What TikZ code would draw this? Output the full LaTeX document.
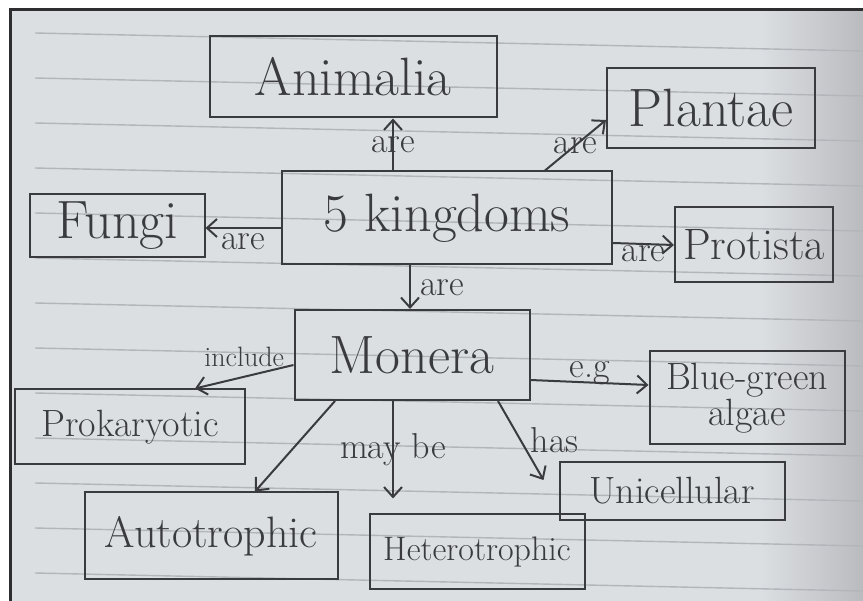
\documentclass[tikz,border=0pt]{standalone}
\usepackage{fontspec}
\usetikzlibrary{positioning,arrows.meta}

\definecolor{pencil}{HTML}{3A3B3F}
\definecolor{paper}{HTML}{DCDFE2}
\definecolor{paperdark}{HTML}{BABBBF}
\definecolor{ruling}{HTML}{B2B6BA}
\definecolor{rim}{HTML}{2E2E30}

\tikzset{
  kbox/.style={draw=pencil,line width=2pt,text=pencil,inner sep=0pt,
    font=\fontsize{44}{48}\selectfont},
  bigtext/.style={font=\fontsize{54}{58}\selectfont},
  smalltext/.style={font=\fontsize{38}{36}\selectfont},
  lab/.style={text=pencil,inner sep=1pt,font=\fontsize{36}{38}\selectfont},
}

\begin{document}
\begin{tikzpicture}[x=1pt,y=-1pt,on grid,
    >={Straight Barb[length=10pt,width=18pt]}]
  \useasboundingbox (0,0) rectangle (863,601);
  % the notebook page
  \fill[white] (0,0) rectangle (863,601);
  \fill[paper] (10,10) rectangle (760,601);
  \shade[left color=paper,right color=paperdark] (760,10) rectangle (863,601);
  \foreach \k in {0,...,12}
    \draw[ruling,line width=1.4pt] (35,{33+45*\k}) -- (863,{51+45*\k});
  \draw[rim,line width=3pt] (10,601) -- (10,10) -- (863,10);

  \node[kbox,bigtext,minimum width=330pt,minimum height=93pt] (king) at (447,218) {5 kingdoms};
  \node[kbox,bigtext,minimum width=287pt,minimum height=81pt,above left=141pt and 94pt of king] (anim) {Animalia};
  \node[kbox,bigtext,minimum width=208pt,minimum height=80pt,above right=110pt and 264pt of king] (plant) {Plantae};
  \node[kbox,bigtext,minimum width=175pt,minimum height=63pt,above left=-8pt and 330pt of king] (fungi) {Fungi};
  \node[kbox,minimum width=158pt,minimum height=75pt,below right=27pt and 307pt of king] (prot) {Protista};
  \node[kbox,bigtext,minimum width=235pt,minimum height=90pt,below left=137pt and 35pt of king] (mon) {Monera};

  \node[kbox,smalltext,minimum width=230pt,minimum height=75pt,below left=72pt and 282pt of mon] (prok) {Prokaryotic};
  \node[kbox,smalltext,align=center,minimum width=195pt,minimum height=93pt,below right=43pt and 335pt of mon] (bga) {Blue-green\\algae};
  \node[kbox,minimum width=253pt,minimum height=87pt,below left=181pt and 201pt of mon] (auto) {Autotrophic};
  \node[kbox,font=\fontsize{34}{36}\selectfont,minimum width=215pt,minimum height=75pt,below right=197pt and 65pt of mon] (het) {Heterotrophic};
  \node[kbox,smalltext,minimum width=225pt,minimum height=58pt,below right=136pt and 260pt of mon] (uni) {Unicellular};

  \path[->,line width=2pt,every edge/.append style={draw=pencil}]
    ([xshift=-54pt]king.north) edge node[lab]{are} ([xshift=40pt]anim.south)
    ([xshift=98pt]king.north) edge node[lab]{are} ([yshift=-12pt]plant.west)
    ([yshift=-10pt]king.west) edge node[lab,below=4pt]{are} ([yshift=-2pt]fungi.east)
    ([yshift=-25pt]king.east) edge node[lab,yshift=-10pt]{are} (prot.west)
    ([xshift=-37pt]king.south) edge node[lab,right=8pt]{are} ([xshift=-2pt]mon.north)
    ([yshift=-10pt]mon.west) edge node[lab,font=\fontsize{28}{30}\selectfont,above=8pt]{include} ([xshift=65pt]prok.north)
    ([yshift=-25pt]mon.east) edge node[lab,above=-4pt]{e.g} ([yshift=13pt]bga.west)
    ([xshift=-77pt]mon.south) edge ([xshift=44pt]auto.north)
    ([xshift=-19pt]mon.south) edge node[lab]{may be} ([xshift=-84pt,yshift=15pt]het.north)
    ([xshift=86pt]mon.south) edge node[lab,right=8pt]{has} ([xshift=-15pt,yshift=11pt]uni.west)
  ;
\end{tikzpicture}
\end{document}
